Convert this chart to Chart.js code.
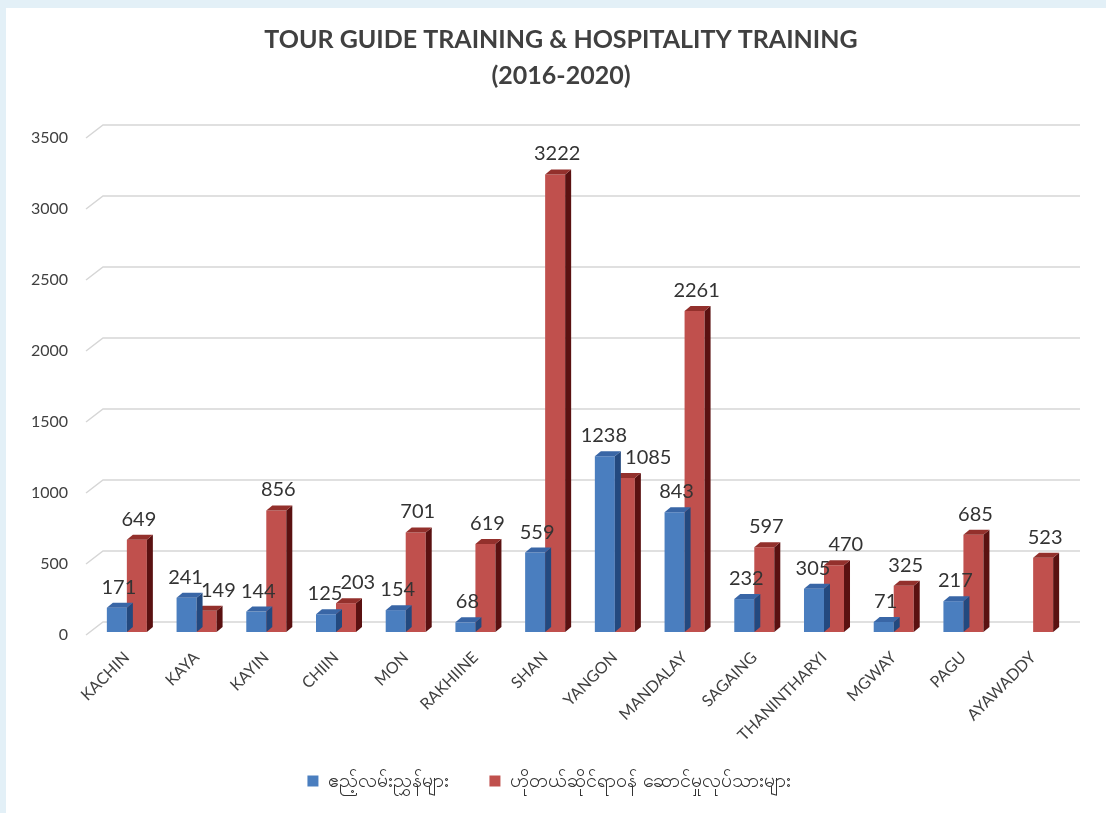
<!DOCTYPE html>
<html>
<head>
<meta charset="utf-8">
<script src="https://cdn.jsdelivr.net/npm/chart.js@4.4.1/dist/chart.umd.min.js"></script>
<style>
  html,body{margin:0;padding:0;background:#e3f0f7;width:1106px;height:813px;overflow:hidden;}
  #panel{position:absolute;left:6px;top:8px;width:1100px;height:805px;background:#ffffff;}
  #c{position:absolute;left:0;top:0;}
</style>
</head>
<body>
<div id="panel"></div>
<canvas id="c" width="1106" height="813"></canvas>
<script>
// ---- data ----
const categories = ["KACHIN","KAYA","KAYIN","CHIIN","MON","RAKHIINE","SHAN","YANGON","MANDALAY","SAGAING","THANINTHARYI","MGWAY","PAGU","AYAWADDY"];
const tourGuide = [171,241,144,125,154,68,559,1238,843,232,305,71,217,null];
const hospitality = [649,149,856,203,701,619,3222,1085,2261,597,470,325,685,523];
const seriesNames = ["ဧည့်လမ်းညွှန်များ","ဟိုတယ်ဆိုင်ရာဝန် ဆောင်မှုလုပ်သားများ"];
const titleLines = ["TOUR GUIDE TRAINING & HOSPITALITY TRAINING","(2016-2020)"];
const yTicks = [0,500,1000,1500,2000,2500,3000,3500];

const frontColors = ['#4a7ebf','#c0504d'];
const topColors = ['#3966a6','#93302c'];
const sideColors = ['#23497f','#5a1111'];
const DX = 6, DY = 5;
const FONT = "Lato, 'Open Sans', sans-serif";

const plugin3d = {
  id: 'bars3d',
  beforeDatasetsDraw(chart){
    const {ctx, chartArea, scales:{y}} = chart;
    ctx.save();
    ctx.strokeStyle = '#d6d6d6';
    ctx.lineWidth = 1.5;
    yTicks.forEach(v=>{
      const py = y.getPixelForValue(v);
      ctx.beginPath();
      ctx.moveTo(chartArea.left-6, py+3);
      ctx.lineTo(chartArea.left+11, py-10);
      ctx.lineTo(chartArea.right+12, py-10);
      ctx.stroke();
    });
    ctx.restore();
  },
  afterDatasetDraw(chart, args){
    const ctx = chart.ctx;
    const idx = args.index;
    const ds = chart.data.datasets[idx];
    ctx.save();
    args.meta.data.forEach((bar,i)=>{
      if (ds.data[i] == null) return;
      const {x,y,base,width} = bar.getProps(['x','y','base','width'], true);
      const l = x - width/2, r = x + width/2;
      ctx.fillStyle = sideColors[idx];
      ctx.beginPath();
      ctx.moveTo(r, y); ctx.lineTo(r+DX, y-DY); ctx.lineTo(r+DX, base-DY); ctx.lineTo(r, base);
      ctx.closePath(); ctx.fill();
      ctx.fillStyle = topColors[idx];
      ctx.beginPath();
      ctx.moveTo(l, y); ctx.lineTo(l+DX, y-DY); ctx.lineTo(r+DX, y-DY); ctx.lineTo(r, y);
      ctx.closePath(); ctx.fill();
    });
    ctx.restore();
  },
  afterDatasetsDraw(chart){
    const ctx = chart.ctx;
    ctx.save();
    ctx.font = "20px " + FONT;
    ctx.fillStyle = '#333333';
    ctx.textAlign = 'center';
    ctx.textBaseline = 'alphabetic';
    const m0 = chart.getDatasetMeta(0), m1 = chart.getDatasetMeta(1);
    const d0 = chart.data.datasets[0].data, d1 = chart.data.datasets[1].data;
    categories.forEach((c,i)=>{
      let b = null, r = null;
      if (d0[i] != null){
        const p = m0.data[i].getProps(['x','y'], true);
        b = {t:String(d0[i]), x:p.x+2, y:p.y-14, w:ctx.measureText(String(d0[i])).width};
      }
      if (d1[i] != null){
        const p = m1.data[i].getProps(['x','y'], true);
        r = {t:String(d1[i]), x:p.x+2, y:p.y-14, w:ctx.measureText(String(d1[i])).width};
      }
      if (b && r && Math.abs(b.y - r.y) < 25 && (b.x + b.w/2) > (r.x - r.w/2)){
        b.x -= 3;
        r.x = b.x + b.w/2 - 2 + r.w/2;
      }
      [b, r].forEach(o=>{ if (o) ctx.fillText(o.t, o.x, o.y); });
    });
    ctx.restore();
  },
  afterDraw(chart){
    const ctx = chart.ctx;
    ctx.save();
    ctx.font = "bold 25px " + FONT;
    ctx.fillStyle = '#404040';
    ctx.textAlign = 'center';
    ctx.textBaseline = 'middle';
    ctx.fillText(titleLines[0], 561, 40);
    ctx.fillText(titleLines[1], 561, 76);
    ctx.restore();
  }
};

new Chart(document.getElementById('c'), {
  type: 'bar',
  data: {
    labels: categories,
    datasets: [
      {label: seriesNames[0], data: tourGuide, backgroundColor: frontColors[0], borderWidth: 0},
      {label: seriesNames[1], data: hospitality, backgroundColor: frontColors[1], borderWidth: 0}
    ]
  },
  options: {
    responsive: false,
    devicePixelRatio: 1,
    animation: false,
    categoryPercentage: 0.574,
    barPercentage: 1.0,
    layout: {padding: {left: 30, right: 38, top: 135, bottom: 12}},
    plugins: {
      tooltip: {enabled: false},
      title: {display: false},
      legend: {
        display: true,
        position: 'bottom',
        labels: {
          boxWidth: 11, boxHeight: 11, padding: 40,
          color: '#333333',
          font: {family: FONT, size: 20}
        }
      }
    },
    scales: {
      x: {
        grid: {display: false, drawTicks: false},
        border: {display: false},
        ticks: {
          color: '#404040',
          font: {family: FONT, size: 16},
          minRotation: 45, maxRotation: 45,
          padding: 16,
          autoSkip: false
        },
        afterFit(s){ s.height = 99; s._computeLabelArea = () => undefined; }
      },
      y: {
        min: 0, max: 3500,
        grid: {display: false, drawTicks: false},
        border: {display: false},
        ticks: {
          stepSize: 500,
          color: '#404040',
          font: {family: FONT, size: 16},
          padding: 24,
          labelOffset: 3,
          callback: (v) => String(v)
        },
        afterFit(s){ s.width = 62; s._computeLabelArea = () => undefined; }
      }
    }
  },
  plugins: [plugin3d]
});
</script>
</body>
</html>
